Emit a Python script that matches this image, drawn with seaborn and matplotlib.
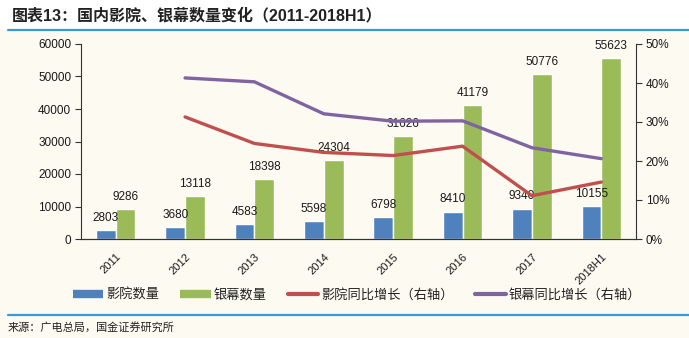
import numpy as np
import pandas as pd
import matplotlib
matplotlib.use('Agg')
import matplotlib.pyplot as plt
import seaborn as sns
from matplotlib.lines import Line2D
from matplotlib.ticker import FuncFormatter, FixedLocator
from matplotlib.font_manager import FontProperties
import matplotlib.transforms as mtransforms

# ---------------- data ----------------
categories = ['2011', '2012', '2013', '2014', '2015', '2016', '2017', '2018H1']
cinemas = [2803, 3680, 4583, 5598, 6798, 8410, 9340, 10155]
screens = [9286, 13118, 18398, 24304, 31626, 41179, 50776, 55623]
cinema_growth = [np.nan, 31.3, 24.5, 22.2, 21.4, 23.8, 11.1, 14.6]   # %
screen_growth = [np.nan, 41.3, 40.3, 32.1, 30.2, 30.3, 23.4, 20.6]   # %
bar_names = ['影院数量', '银幕数量']
line_names = ['影院同比增长（右轴）', '银幕同比增长（右轴）']
left_ticks = [0, 10000, 20000, 30000, 40000, 50000, 60000]
right_ticks = [0, 10, 20, 30, 40, 50]
title = '图表13：国内影院、银幕数量变化（2011-2018H1）'
source = '来源：广电总局，国金证券研究所'

# ---------------- style ----------------
sns.set_style('white')
plt.rcParams['font.family'] = ['Liberation Sans', 'Noto Sans CJK SC', 'DejaVu Sans']
cjk = ['Noto Sans CJK SC', 'DejaVu Sans']

BLUE, GREEN = '#4F81BD', '#9BBB59'
RED, PURPLE = '#C0504D', '#8064A2'
RULE = '#3A98D4'
CREAM = '#FCFAF1'
TXT = '#1a1a1a'

W, H = 689, 338
fig = plt.figure(figsize=(W / 100, H / 100), dpi=100, facecolor='white')
fig.patches.append(plt.Rectangle((0, 0), 1, 1 - 30 / H, transform=fig.transFigure,
                                 facecolor=CREAM, edgecolor='none', zorder=-10))
ax = fig.add_axes([81 / W, 1 - 239 / H, (636 - 81) / W, (239 - 44) / H])
ax.set_facecolor('none')

bars_df = pd.DataFrame({
    'year': categories * 2,
    'value': cinemas + screens,
    'series': [bar_names[0]] * len(categories) + [bar_names[1]] * len(categories),
})
sns.barplot(data=bars_df, x='year', y='value', hue='series', order=categories,
            hue_order=bar_names, palette=[BLUE, GREEN], width=0.57, saturation=1,
            ax=ax, legend=False, gap=0)

# value labels
for i, cont in enumerate(ax.containers):
    labels = ax.bar_label(cont, labels=[str(v) for v in (cinemas if i == 0 else screens)],
                          padding=4.5, fontsize=8.5, color=TXT)
    if i == 0:
        for t in labels:
            t.set_transform(t.get_transform() + mtransforms.ScaledTranslation(-5 / 100, 0, fig.dpi_scale_trans))

ax.set_xlim(-0.5, len(categories) - 0.5)
ax.set_ylim(0, 60000)
ax.yaxis.set_major_locator(FixedLocator(left_ticks))
ax.set_xlabel('')
ax.set_ylabel('')

# growth lines on right axis
ax2 = ax.twinx()
ax2.set_facecolor('none')
pos = list(range(len(categories)))
lines_df = pd.DataFrame({
    'pos': pos * 2,
    'growth': cinema_growth + screen_growth,
    'series': [line_names[0]] * len(categories) + [line_names[1]] * len(categories),
}).dropna()
sns.lineplot(data=lines_df, x='pos', y='growth', hue='series', hue_order=line_names,
             palette=[RED, PURPLE], linewidth=2.4, ax=ax2, legend=False)
ax2.set_ylim(0, 50)
ax2.yaxis.set_major_locator(FixedLocator(right_ticks))
ax2.yaxis.set_major_formatter(FuncFormatter(lambda v, p: f'{v:.0f}%'))
ax2.set_xlabel('')
ax2.set_ylabel('')
ax.set_xlim(-0.5, len(categories) - 0.5)

# x ticks: labels at centres, marks at boundaries
ax.set_xticks(pos)
ax.set_xticklabels(categories, rotation=45, ha='right', rotation_mode='anchor', fontsize=8, color=TXT)
ax.set_xticks([p - 0.5 for p in pos] + [len(categories) - 0.5], minor=True)
ax.tick_params(axis='x', which='major', length=0, pad=9)
ax.tick_params(axis='x', which='minor', length=4, width=0.8, color='#333333', direction='out')
ax.tick_params(axis='y', which='major', length=4, width=0.8, color='#333333', direction='out',
               labelsize=8.5, labelcolor=TXT, pad=3, left=True)
ax2.tick_params(axis='y', which='major', length=4, width=0.8, color='#333333', direction='out',
                labelsize=8.5, labelcolor=TXT, pad=3, right=True)

for a in (ax, ax2):
    for s in ('top',):
        a.spines[s].set_visible(False)
    for s in ('left', 'right', 'bottom'):
        a.spines[s].set_visible(True)
        a.spines[s].set_color('#333333')
        a.spines[s].set_linewidth(0.8)
ax.spines['right'].set_visible(False)
ax2.spines['left'].set_visible(False)

# legend
handles = [
    Line2D([0], [0], color=BLUE, lw=6, solid_capstyle='butt'),
    Line2D([0], [0], color=GREEN, lw=6, solid_capstyle='butt'),
    Line2D([0], [0], color=RED, lw=3, solid_capstyle='round'),
    Line2D([0], [0], color=PURPLE, lw=3, solid_capstyle='round'),
]
fig.legend(handles, bar_names + line_names, loc='center', bbox_to_anchor=(357 / W, 1 - 295 / H),
           ncol=4, frameon=False, prop=FontProperties(family=cjk, size=9.5),
           handlelength=2.3, handletextpad=0.25, columnspacing=1.6, labelcolor='#222222')

# title, rules, source
fig.text(12 / W, 1 - 15 / H, title, fontsize=11.5, fontweight='bold', ha='left', va='center',
         color='#222222', family=['Liberation Sans', 'Noto Sans CJK SC', 'DejaVu Sans'])
fig.add_artist(Line2D([8 / W, 1], [1 - 29.5 / H] * 2, transform=fig.transFigure, color=RULE, lw=1.6))
fig.add_artist(Line2D([8 / W, 1], [1 - 314.5 / H] * 2, transform=fig.transFigure, color=RULE, lw=1.6))
fig.text(8 / W, 1 - 327 / H, source, fontsize=8, ha='left', va='center', color='#222222', family=cjk)

fig.savefig('out.png', dpi=100, facecolor=fig.get_facecolor())
